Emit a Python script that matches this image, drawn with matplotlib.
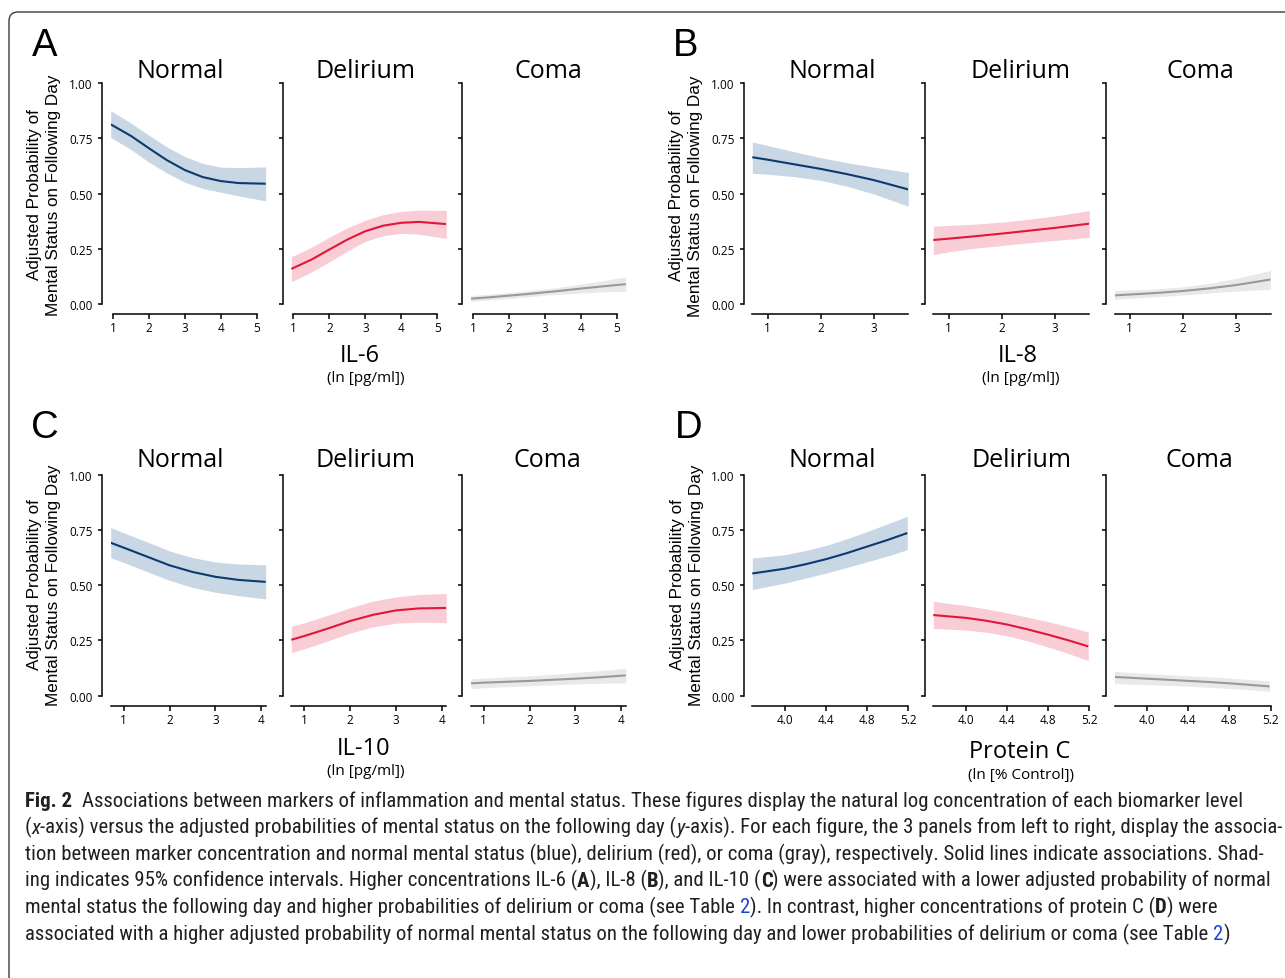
import matplotlib
matplotlib.use('Agg')
import matplotlib.pyplot as plt
from matplotlib import font_manager as fm
from matplotlib.patches import FancyBboxPatch
from matplotlib.transforms import IdentityTransform

# ---------------- data ----------------
panel_letters = ['A', 'B', 'C', 'D']
states = ['Normal', 'Delirium', 'Coma']
markers = ['IL-6', 'IL-8', 'IL-10', 'Protein C']
units = ['(ln [pg/ml])', '(ln [pg/ml])', '(ln [pg/ml])', '(ln [% Control])']
y_ticks = [0.0, 0.25, 0.5, 0.75, 1.0]
y_tick_labels = ['0.00', '0.25', '0.50', '0.75', '1.00']

il6_x = [0.94, 1.5, 2.0, 2.5, 3.0, 3.5, 4.0, 4.5, 5.25]
il6_normal_fit = [0.814, 0.762, 0.706, 0.652, 0.607, 0.575, 0.557, 0.548, 0.545]
il6_normal_lo = [0.755, 0.700, 0.643, 0.594, 0.552, 0.523, 0.507, 0.490, 0.467]
il6_normal_hi = [0.876, 0.820, 0.765, 0.712, 0.668, 0.637, 0.620, 0.618, 0.621]
il6_delirium_fit = [0.159, 0.201, 0.247, 0.292, 0.330, 0.355, 0.368, 0.372, 0.362]
il6_delirium_lo = [0.100, 0.145, 0.191, 0.240, 0.284, 0.310, 0.320, 0.316, 0.297]
il6_delirium_hi = [0.214, 0.257, 0.303, 0.345, 0.380, 0.405, 0.420, 0.425, 0.424]
il6_coma_fit = [0.024, 0.031, 0.038, 0.045, 0.053, 0.061, 0.070, 0.078, 0.090]
il6_coma_lo = [0.012, 0.019, 0.025, 0.032, 0.040, 0.045, 0.050, 0.054, 0.058]
il6_coma_hi = [0.038, 0.045, 0.052, 0.060, 0.068, 0.078, 0.090, 0.103, 0.123]
il6_ticks = [1, 2, 3, 4, 5]
il6_tick_labels = ['1', '2', '3', '4', '5']

il8_x = [0.715, 1.0, 1.5, 2.0, 2.5, 3.0, 3.64]
il8_normal_fit = [0.665, 0.654, 0.633, 0.612, 0.588, 0.561, 0.519]
il8_normal_lo = [0.592, 0.588, 0.577, 0.560, 0.533, 0.498, 0.443]
il8_normal_hi = [0.734, 0.718, 0.690, 0.663, 0.640, 0.620, 0.596]
il8_delirium_fit = [0.290, 0.296, 0.307, 0.319, 0.332, 0.345, 0.364]
il8_delirium_lo = [0.223, 0.236, 0.253, 0.265, 0.277, 0.288, 0.302]
il8_delirium_hi = [0.352, 0.356, 0.362, 0.371, 0.384, 0.399, 0.423]
il8_coma_fit = [0.039, 0.043, 0.050, 0.059, 0.071, 0.086, 0.111]
il8_coma_lo = [0.021, 0.026, 0.033, 0.041, 0.050, 0.058, 0.067]
il8_coma_hi = [0.061, 0.063, 0.068, 0.078, 0.094, 0.116, 0.152]
il8_ticks = [1, 2, 3]
il8_tick_labels = ['1', '2', '3']

il10_x = [0.717, 1.0, 1.5, 2.0, 2.5, 3.0, 3.5, 4.097]
il10_normal_fit = [0.692, 0.670, 0.630, 0.590, 0.560, 0.538, 0.524, 0.515]
il10_normal_lo = [0.624, 0.603, 0.562, 0.522, 0.490, 0.468, 0.453, 0.438]
il10_normal_hi = [0.761, 0.737, 0.697, 0.655, 0.625, 0.605, 0.596, 0.592]
il10_delirium_fit = [0.253, 0.270, 0.303, 0.338, 0.366, 0.386, 0.395, 0.397]
il10_delirium_lo = [0.195, 0.212, 0.247, 0.283, 0.312, 0.328, 0.333, 0.330]
il10_delirium_hi = [0.314, 0.330, 0.363, 0.398, 0.428, 0.447, 0.458, 0.462]
il10_coma_fit = [0.056, 0.059, 0.063, 0.067, 0.072, 0.077, 0.083, 0.092]
il10_coma_lo = [0.032, 0.036, 0.041, 0.045, 0.049, 0.053, 0.056, 0.058]
il10_coma_hi = [0.077, 0.080, 0.085, 0.090, 0.097, 0.105, 0.113, 0.124]
il10_ticks = [1, 2, 3, 4]
il10_tick_labels = ['1', '2', '3', '4']

pc_x = [3.68, 4.0, 4.2, 4.4, 4.6, 4.8, 5.0, 5.19]
pc_normal_fit = [0.553, 0.575, 0.595, 0.618, 0.645, 0.675, 0.705, 0.736]
pc_normal_lo = [0.480, 0.510, 0.532, 0.555, 0.580, 0.606, 0.632, 0.661]
pc_normal_hi = [0.623, 0.638, 0.657, 0.680, 0.710, 0.743, 0.778, 0.812]
pc_delirium_fit = [0.365, 0.352, 0.339, 0.322, 0.300, 0.276, 0.250, 0.223]
pc_delirium_lo = [0.305, 0.297, 0.287, 0.271, 0.248, 0.220, 0.190, 0.159]
pc_delirium_hi = [0.427, 0.408, 0.392, 0.375, 0.355, 0.335, 0.312, 0.288]
pc_coma_fit = [0.085, 0.077, 0.072, 0.067, 0.062, 0.056, 0.049, 0.042]
pc_coma_lo = [0.055, 0.050, 0.047, 0.043, 0.038, 0.033, 0.027, 0.020]
pc_coma_hi = [0.110, 0.100, 0.095, 0.090, 0.085, 0.080, 0.073, 0.067]
pc_ticks = [4.0, 4.4, 4.8, 5.2]
pc_tick_labels = ['4.0', '4.4', '4.8', '5.2']

panels = [
    (il6_x, [(il6_normal_fit, il6_normal_lo, il6_normal_hi),
             (il6_delirium_fit, il6_delirium_lo, il6_delirium_hi),
             (il6_coma_fit, il6_coma_lo, il6_coma_hi)], il6_ticks, il6_tick_labels),
    (il8_x, [(il8_normal_fit, il8_normal_lo, il8_normal_hi),
             (il8_delirium_fit, il8_delirium_lo, il8_delirium_hi),
             (il8_coma_fit, il8_coma_lo, il8_coma_hi)], il8_ticks, il8_tick_labels),
    (il10_x, [(il10_normal_fit, il10_normal_lo, il10_normal_hi),
              (il10_delirium_fit, il10_delirium_lo, il10_delirium_hi),
              (il10_coma_fit, il10_coma_lo, il10_coma_hi)], il10_ticks, il10_tick_labels),
    (pc_x, [(pc_normal_fit, pc_normal_lo, pc_normal_hi),
            (pc_delirium_fit, pc_delirium_lo, pc_delirium_hi),
            (pc_coma_fit, pc_coma_lo, pc_coma_hi)], pc_ticks, pc_tick_labels),
]

caption_lines = [
    [("Fig. 2", 'b'), ("  Associations between markers of inflammation and mental status. These figures display the natural log concentration of each biomarker level", 'n')],
    [("(", 'n'), ("x", 'i'), ("-axis) versus the adjusted probabilities of mental status on the following day (", 'n'), ("y", 'i'),
     ("-axis). For each figure, the 3 panels from left to right, display the associa-", 'n')],
    [("tion between marker concentration and normal mental status (blue), delirium (red), or coma (gray), respectively. Solid lines indicate associations. Shad-", 'n')],
    [("ing indicates 95% confidence intervals. Higher concentrations IL-6 (", 'n'), ("A", 'b'), ("), IL-8 (", 'n'), ("B", 'b'),
     ("), and IL-10 (", 'n'), ("C", 'b'), (") were associated with a lower adjusted probability of normal", 'n')],
    [("mental status the following day and higher probabilities of delirium or coma (see Table ", 'n'), ("2", 'l'),
     ("). In contrast, higher concentrations of protein C (", 'n'), ("D", 'b'), (") were", 'n')],
    [("associated with a higher adjusted probability of normal mental status on the following day and lower probabilities of delirium or coma (see Table ", 'n'),
     ("2", 'l'), (")", 'n')],
]

# ---------------- style ----------------
line_colors = ['#0b3a6e', '#e0173b', '#999999']
band_colors = ['#c9d6e4', '#f9cdd5', '#e9e9e9']
W, H = 1285, 979
PX = 0.72  # points per pixel at dpi 100

plt.rcParams['font.family'] = ['Open Sans', 'DejaVu Sans']
fig = plt.figure(figsize=(W / 100, H / 100), dpi=100)
fig.patch.set_facecolor('white')

def fx(x):
    return x / W

def fy(y):
    return 1 - y / H

# border frame
frame = FancyBboxPatch((9, -30), 1320, H - 13 + 30, boxstyle="round,pad=0,rounding_size=9",
                       transform=IdentityTransform(), fill=False, ec='#3a3a3a', lw=1.0)
fig.add_artist(frame)

col_lefts = [[110.7, 291.3, 470.8], [752.3, 933.3, 1114.5]]
col_width = [155.0, 156.0]
row_tops = [84.3, 475.7]
row_height = [220.7, 221.0]

title_x = [[180, 365, 548], [832, 1021, 1200], [180, 366, 547], [832, 1022, 1199]]
title_base = [78.5, 467.5]
letter_pos = [(45, 56.5), (686, 56.5), (45, 437.5), (689, 437.5)]
ylab_pos = [(44, 195), (686, 196), (44, 585), (687, 585)]
xlab_pos = [(360, 362), (1018, 362), (364, 755), (1020, 758)]
unit_pos = [(366, 382), (1021, 382), (366, 775), (1021, 779)]

for p, (xs, series, ticks, tlabels) in enumerate(panels):
    row, col = p // 2, p % 2
    for s in range(3):
        left = col_lefts[col][s]
        w = col_width[col]
        top = row_tops[row]
        h = row_height[row]
        ax = fig.add_axes([fx(left), fy(top + h), w / W, h / H])
        ax.patch.set_alpha(0)
        fit, lo, hi = series[s]
        ax.fill_between(xs, lo, hi, color=band_colors[s], lw=0)
        ax.plot(xs, fit, color=line_colors[s], lw=1.5, solid_capstyle='butt',
                solid_joinstyle='round')
        ax.set_xlim(min(xs), max(max(xs), max(ticks)))
        ax.set_ylim(0, 1)
        for side in ['top', 'right']:
            ax.spines[side].set_visible(False)
        ax.spines['left'].set_position(('outward', 8.5 * PX))
        ax.spines['bottom'].set_position(('outward', 10 * PX))
        ax.spines['left'].set_bounds(0, 1)
        if p == 0:
            ax.spines['bottom'].set_bounds(1, 5)
        for side in ['left', 'bottom']:
            ax.spines[side].set_linewidth(1.1)
        ax.set_yticks(y_ticks)
        ax.set_xticks(ticks)
        ax.set_xticklabels(tlabels)
        if s == 0:
            ax.set_yticklabels(y_tick_labels)
        else:
            ax.set_yticklabels([])
        ax.tick_params(axis='both', length=4.5 * PX, width=1.1, labelsize=8.5, color='black')
        ax.tick_params(axis='y', pad=3.5)
        ax.tick_params(axis='x', pad=2.0)
        fig.text(fx(title_x[p][s]), fy(title_base[row]), states[s], fontsize=18,
                 ha='center', va='baseline', color='black')
    lx, ly = letter_pos[p]
    fig.text(fx(lx), fy(ly), panel_letters[p], fontsize=27.5, family='Liberation Sans',
             ha='center', va='baseline')
    yx, yy = ylab_pos[p]
    fig.text(fx(yx), fy(yy), 'Adjusted Probability of\nMental Status on Following Day',
             rotation=90, fontsize=12.3, family='Liberation Sans', ha='center', va='center',
             multialignment='center', linespacing=1.3)
    mx, my = xlab_pos[p]
    fig.text(fx(mx), fy(my), markers[p], fontsize=17, ha='center', va='baseline')
    ux, uy = unit_pos[p]
    fig.text(fx(ux), fy(uy), units[p], fontsize=11, ha='center', va='baseline')

# ---------------- caption ----------------
names = {f.name for f in fm.fontManager.ttflist}
cap_family = next((n for n in ['Roboto Condensed', 'Liberation Sans Narrow', 'Noto Sans Condensed',
                               'Open Sans Condensed'] if n in names), 'Roboto')
renderer = fig.canvas.get_renderer()
cap_color = '#231f20'
link_color = '#1a44d6'

def style_of(kind):
    weight = 'bold' if kind == 'b' else 'normal'
    style = 'italic' if kind == 'i' else 'normal'
    color = link_color if kind == 'l' else cap_color
    return weight, style, color

def measure(s, size, kind='n'):
    weight, style, _ = style_of(kind)
    t = fig.text(0, 0, s, fontsize=size, family=cap_family, weight=weight, style=style)
    w = t.get_window_extent(renderer).width
    t.remove()
    return w

def layout_line(runs, size, x0=None, ybase=None):
    sp = measure('a a', size) - measure('aa', size)
    x = 0 if x0 is None else x0
    for s, kind in runs:
        lead = len(s) - len(s.lstrip(' '))
        trail = len(s) - len(s.rstrip(' '))
        core = s.strip(' ')
        x += lead * sp
        if x0 is not None:
            weight, style, color = style_of(kind)
            fig.text(fx(x), fy(ybase), core, fontsize=size, family=cap_family, weight=weight,
                     style=style, color=color, ha='left', va='baseline')
        x += measure(core, size, kind)
        x += trail * sp
    return x

ref_size = 10.0
widest = max(layout_line(caption_lines[i], ref_size) for i in (1, 3))
cap_size = ref_size * 1250.0 / widest
for i, runs in enumerate(caption_lines):
    layout_line(runs, cap_size, x0=25, ybase=807 + 26.6 * i)

fig.savefig('out.png', dpi=100, facecolor='white')
